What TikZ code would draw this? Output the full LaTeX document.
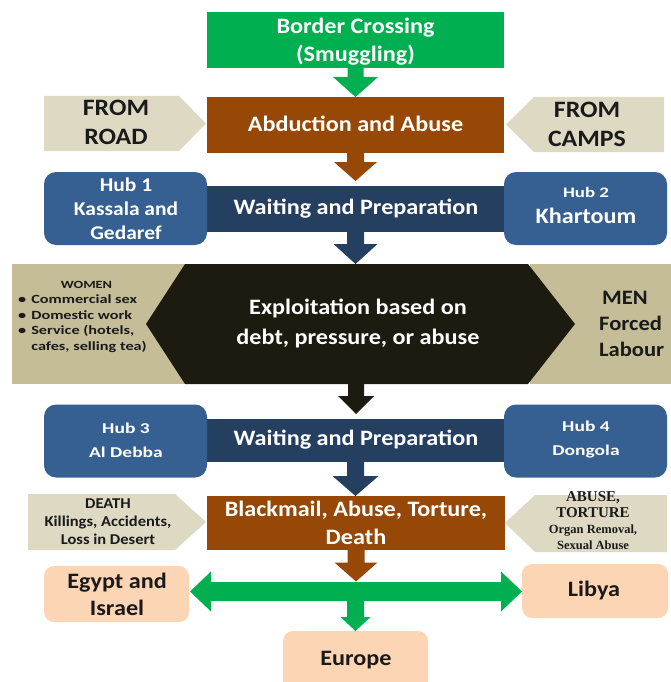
\documentclass[tikz,border=0pt]{standalone}
\usepackage{fontspec}
\setmainfont{Carlito}[FakeStretch=1.1]
\newfontfamily\widefont{Carlito}[FakeStretch=1.3]
\newfontfamily\serifbold{Liberation Serif}
\usetikzlibrary{calc}
\definecolor{grn}{HTML}{00B050}
\definecolor{brn}{HTML}{974806}
\definecolor{tanA}{HTML}{DDD9C3}
\definecolor{tanB}{HTML}{C4BD97}
\definecolor{hubblue}{HTML}{376092}
\definecolor{navy}{HTML}{243F60}
\definecolor{darkhex}{HTML}{1D1B10}
\definecolor{peach}{HTML}{FCD5B5}
\definecolor{ink}{HTML}{1A1A1A}
\newcommand{\myfs}[2]{\fontsize{#1}{#2}\selectfont}
% block arrow pointing down: colour, source, tip, half shaft, half head, head length
\newcommand{\blkdown}[6]{%
  \fill[#1] let \p1=#2, \p2=#3 in
    (\x1-#4,\y1) -- (\x1-#4,\y2+#6) -- (\x1-#5,\y2+#6) -- (\x1,\y2) --
    (\x1+#5,\y2+#6) -- (\x1+#4,\y2+#6) -- (\x1+#4,\y1) -- cycle;}
\tikzset{
  shp/.style={inner sep=0pt, outer sep=0pt},
  hub/.style={shp, fill=hubblue, rounded corners=12pt, minimum width=163pt},
  txt/.style={inner sep=0pt, align=center, font=\bfseries},
  wtxt/.style={txt, text=white},
  ktxt/.style={txt, text=ink},
}
\begin{document}
\begin{tikzpicture}[x=1pt,y=-1pt]
\useasboundingbox (0,0) rectangle (671,682);
% side tan boxes behind the hexagon
\node[shp, fill=tanB, minimum width=173pt, minimum height=120pt] (women) at (98.5,324) {};
\node[shp, fill=tanB, minimum width=141pt, minimum height=120pt] (men) at (600.5,324) {};
% hexagon
\fill[darkhex] (185,264) -- (528,264) -- (575,324) -- (528,384) -- (185,384) -- (146,324) -- cycle;
\coordinate (extop) at (356,264);
\coordinate (exbot) at (356,384);
% waiting bars
\node[shp, fill=navy, minimum width=302pt, minimum height=46pt] (wp1) at (355.5,209) {};
\node[shp, fill=navy, minimum width=302pt, minimum height=43pt] (wp2) at (355.5,440.5) {};
% hubs
\node[hub, minimum height=73pt] (hub1) at (125.5,208.5) {};
\node[hub, minimum height=73pt] (hub2) at (585.5,208.5) {};
\node[hub, minimum height=73pt] (hub3) at (125.5,441) {};
\node[hub, minimum height=73pt] (hub4) at (585.5,441) {};
% pentagons
\fill[tanA] (44,96) -- (179,96) -- (206,123.5) -- (179,151) -- (44,151) -- cycle;
\fill[tanA] (664,97) -- (534,97) -- (506,124.5) -- (534,152) -- (664,152) -- cycle;
\fill[tanA] (28,494) -- (175,494) -- (206,522) -- (175,550) -- (28,550) -- cycle;
\fill[tanA] (667,495) -- (535,495) -- (505,523) -- (535,552) -- (667,552) -- cycle;
% central boxes
\node[shp, fill=grn, minimum width=297pt, minimum height=56pt] (bc) at (355.5,40) {};
\node[shp, fill=brn, minimum width=297pt, minimum height=56pt] (ab) at (355.5,125) {};
\node[shp, fill=brn, minimum width=298pt, minimum height=54pt] (bm) at (356,523) {};
% destination boxes
\node[shp, fill=peach, rounded corners=10pt, minimum width=145pt, minimum height=56pt] (egypt) at (116.5,594) {};
\node[shp, fill=peach, rounded corners=10pt, minimum width=146pt, minimum height=54pt] (libya) at (595,591) {};
\node[shp, fill=peach, rounded corners=10pt, minimum width=145pt, minimum height=60pt] (europe) at (355.5,661) {};
\coordinate (hc) at (355.5,591.5);
% block arrows
\blkdown{grn}{(bc.south)}{(ab.north)}{8pt}{22.5pt}{20pt}
\blkdown{brn}{(ab.south)}{($(wp1.north)+(0,-5)$)}{8.5pt}{21.5pt}{19pt}
\blkdown{navy}{(wp1.south)}{(extop)}{8.5pt}{22pt}{20pt}
\blkdown{darkhex}{(exbot)}{($(wp2.north)+(0,-5)$)}{8pt}{18pt}{18pt}
\blkdown{navy}{(wp2.south)}{(bm.north)}{8.5pt}{23pt}{20pt}
\blkdown{brn}{(bm.south)}{($(hc)+(0,-10)$)}{8.5pt}{21.5pt}{19pt}
\fill[grn] let \p1=(egypt.east), \p2=(libya.west), \p3=(hc) in
  (\x1+1pt,\y3) -- (\x1+22pt,\y3+20pt) -- (\x1+22pt,\y3+9.5pt) -- (\x2-21pt,\y3+9.5pt) --
  (\x2-21pt,\y3+20pt) -- (\x2,\y3) -- (\x2-21pt,\y3-20pt) -- (\x2-21pt,\y3-9.5pt) --
  (\x1+22pt,\y3-9.5pt) -- (\x1+22pt,\y3-20pt) -- cycle;
\blkdown{grn}{(hc)}{(europe.north)}{8.5pt}{15pt}{14pt}
% texts
\node[wtxt, font=\bfseries\myfs{22}{28}] (bct) at (355.5,42) {Border Crossing\\(Smuggling)};
\node[wtxt, font=\bfseries\myfs{22}{28}] (abt) at (355.5,124) {Abduction and Abuse};
\node[ktxt, font=\bfseries\myfs{23.5}{29}] (roadt) at (116,122) {FROM\\ROAD};
\node[ktxt, font=\bfseries\myfs{23.5}{29}] (campst) at (587,124) {FROM\\CAMPS};
\node[wtxt, font=\bfseries\myfs{19.5}{24}] (hub1t) at (126,209) {Hub 1\\Kassala and\\Gedaref};
\node[wtxt, font=\bfseries\myfs{22}{25}] (hub2t) at (586,205) {{\widefont\myfs{14.5}{25}Hub 2}\\[1pt]{\myfs{22}{25}Khartoum}};
\node[wtxt, font=\bfseries\myfs{22}{28}] (wp1t) at (356,209) {Waiting and Preparation};
\node[wtxt, font=\bfseries\myfs{22}{30}] (ext) at (358,323) {Exploitation based on\\debt, pressure, or abuse};
\node[ktxt, font=\bfseries\widefont\myfs{12.5}{15.5}, anchor=west] (womt) at (18,316) {%
  \begin{tabular}{@{}l@{\hspace{5pt}}l@{}}
  \multicolumn{2}{c}{\myfs{11}{15.5}\hspace{8pt}WOMEN}\\
  \textbullet & Commercial sex\\
  \textbullet & Domestic work\\
  \textbullet & Service (hotels,\\
   & cafes, selling tea)
  \end{tabular}};
\node[ktxt, font=\bfseries\myfs{20.5}{26}, align=left, anchor=west] (ment) at (599,324) {\hspace{3pt}MEN\\Forced\\Labour};
\node[wtxt, font=\bfseries\widefont\myfs{15}{24}] (hub3t) at (126,440) {Hub 3\\Al Debba};
\node[wtxt, font=\bfseries\widefont\myfs{15}{24}] (hub4t) at (586,440) {Hub 4\\Dongola};
\node[wtxt, font=\bfseries\myfs{22}{28}] (wp2t) at (356,440) {Waiting and Preparation};
\node[ktxt, font=\bfseries\myfs{15}{18}] (deatht) at (108,522) {DEATH\\Killings, Accidents,\\Loss in Desert};
\node[wtxt, font=\bfseries\myfs{22}{28}] (bmt) at (356,523) {Blackmail, Abuse, Torture,\\Death};
\node[ktxt, font=\serifbold\bfseries\myfs{15}{16}] (abuset) at (593,521) {ABUSE,\\TORTURE\\{\myfs{12.5}{16}Organ Removal,}\\{\myfs{12.5}{16}Sexual Abuse}};
\node[ktxt, font=\bfseries\myfs{22}{27}] (egyptt) at (117,594) {Egypt and\\Israel};
\node[ktxt, font=\bfseries\myfs{22}{27}] (libyat) at (594,591) {Libya};
\node[ktxt, font=\bfseries\myfs{22}{27}] (europet) at (356,660) {Europe};
\end{tikzpicture}
\end{document}
